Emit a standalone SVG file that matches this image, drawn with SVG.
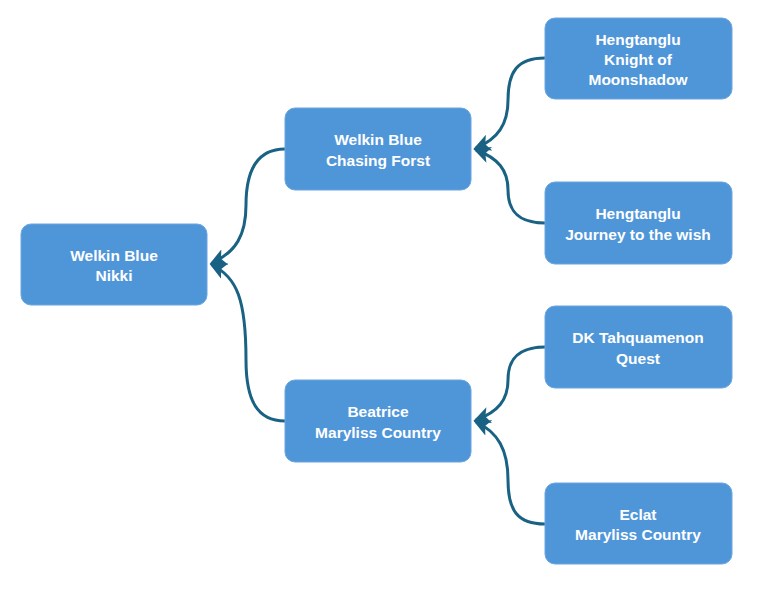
<svg xmlns="http://www.w3.org/2000/svg" width="768" height="591" viewBox="0 0 768 591">
<style>
.node rect{fill:#4f96d9;stroke:#6aa6e0;stroke-width:1}
.node text{fill:#ffffff;font-family:"Liberation Sans",Arial,sans-serif;font-weight:bold;font-size:15.5px;text-anchor:middle;dominant-baseline:central}
.edge{fill:none;stroke:#1a6283;stroke-width:3}
</style>
<defs>
<marker id="arr" markerUnits="userSpaceOnUse" markerWidth="17" markerHeight="17" viewBox="0 0 12 12" refX="10" refY="6" orient="auto">
<path d="M0,0 L12,6 L0,12 L3,6 Z" fill="#1a6283"/>
</marker>
</defs>
<rect width="768" height="591" fill="#ffffff"/>
<g id="connectors">
<path class="edge" marker-end="url(#arr)" d="M285,149 C257,149 246,170 246,205 C246,235 236,252 212,263"/>
<path class="edge" marker-end="url(#arr)" d="M285,421 C257,421 246,400 246,360 C246,300 237,277 212,265"/>
<path class="edge" marker-end="url(#arr)" d="M545,58 C517,58 508,72 508,100 C508,124 498,139 476,148"/>
<path class="edge" marker-end="url(#arr)" d="M545,223 C517,223 508,210 508,190 C508,170 498,158 476,150"/>
<path class="edge" marker-end="url(#arr)" d="M545,347 C517,347 508,360 508,380 C508,400 498,412 476,420"/>
<path class="edge" marker-end="url(#arr)" d="M545,524 C517,524 508,510 508,480 C508,450 498,432 476,422"/>
</g>
<g id="root" class="node"><rect x="21" y="224" width="186" height="81" rx="10"/><text x="114" y="255">Welkin Blue</text><text x="114" y="275">Nikki</text></g>
<g id="mid1" class="node"><rect x="285" y="108" width="186" height="82" rx="10"/><text x="378" y="139">Welkin Blue</text><text x="378" y="160">Chasing Forst</text></g>
<g id="mid2" class="node"><rect x="285" y="380" width="186" height="82" rx="10"/><text x="378" y="411">Beatrice</text><text x="378" y="432">Maryliss Country</text></g>
<g id="leaf1" class="node"><rect x="545" y="18" width="187" height="81" rx="10"/><text x="638" y="39">Hengtanglu</text><text x="638" y="59">Knight of</text><text x="638" y="79">Moonshadow</text></g>
<g id="leaf2" class="node"><rect x="545" y="182" width="187" height="82" rx="10"/><text x="638" y="213">Hengtanglu</text><text x="638" y="234">Journey to the wish</text></g>
<g id="leaf3" class="node"><rect x="545" y="306" width="187" height="82" rx="10"/><text x="638" y="337">DK Tahquamenon</text><text x="638" y="358">Quest</text></g>
<g id="leaf4" class="node"><rect x="545" y="483" width="187" height="81" rx="10"/><text x="638" y="514">Eclat</text><text x="638" y="534">Maryliss Country</text></g>
</svg>
